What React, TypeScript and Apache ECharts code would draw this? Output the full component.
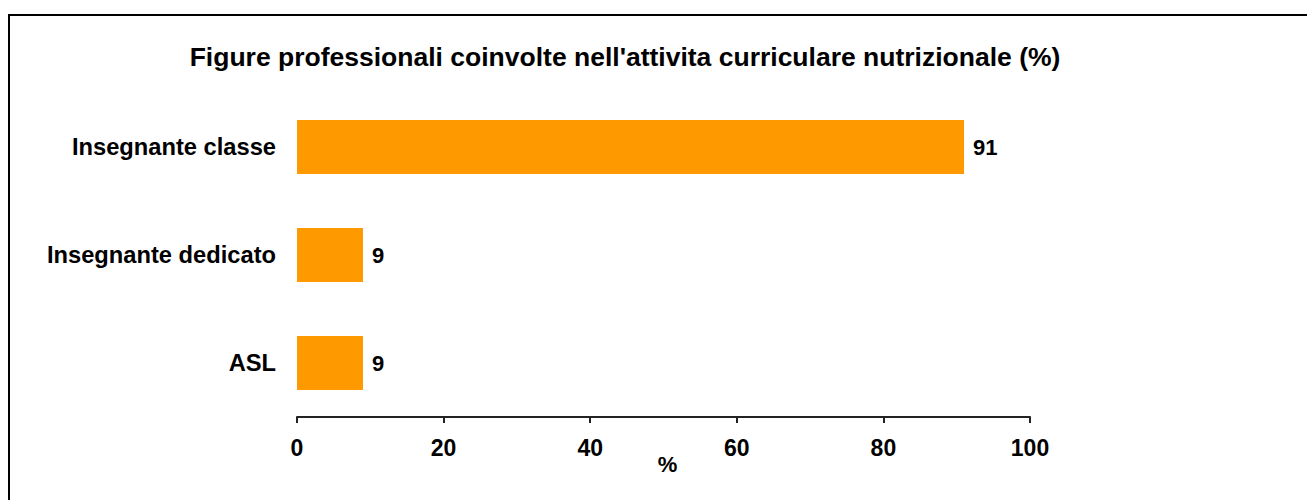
import React, { useEffect, useRef } from "react";
import * as echarts from "echarts";

const categories = ["ASL", "Insegnante dedicato", "Insegnante classe"];
const values = [9, 9, 91];
const titleText = "Figure professionali coinvolte nell'attivita curriculare nutrizionale (%)";
const axisName = "%";

export default function App() {
  const ref = useRef<HTMLDivElement>(null);
  useEffect(() => {
    if (!ref.current) return;
    const chart = echarts.init(ref.current, null, { renderer: "svg" });
    const font = "'Liberation Sans', Arial, sans-serif";
    chart.setOption({
      animation: false,
      backgroundColor: "#ffffff",
      textStyle: { fontFamily: font },
      title: {
        text: titleText,
        left: 620,
        textAlign: "center",
        top: 38,
        textStyle: { fontFamily: font, fontSize: 26.5, fontWeight: "bold", color: "#000" },
      },
      graphic: [
        {
          type: "rect",
          shape: { x: 9, y: 15, width: 1400, height: 600 },
          style: { fill: "none", stroke: "#000", lineWidth: 2 },
          silent: true,
        },
      ],
      grid: { left: 297, right: 1307 - 1030, top: 93, bottom: 500 - 417, containLabel: false },
      xAxis: {
        type: "value",
        min: 0,
        max: 100,
        interval: 20,
        name: axisName,
        nameLocation: "middle",
        nameGap: 36,
        nameMoveOverlap: false,
        nameTextStyle: { fontFamily: font, fontSize: 22, fontWeight: "bold", color: "#000", padding: [0, 0, 0, 8] },
        axisLine: { show: true, lineStyle: { color: "#222", width: 2 } },
        axisTick: { show: true, length: 6, lineStyle: { color: "#222", width: 2 } },
        axisLabel: { fontFamily: font, fontSize: 23, fontWeight: "bold", color: "#000", margin: 19 },
        splitLine: { show: false },
      },
      yAxis: {
        type: "category",
        data: categories,
        axisLine: { show: false },
        axisTick: { show: false },
        axisLabel: { fontFamily: font, fontSize: 23.7, fontWeight: "bold", color: "#000", margin: 21 },
      },
      series: [
        {
          type: "bar",
          data: values,
          barWidth: "50%",
          itemStyle: { color: "#FF9900" },
          label: {
            show: true,
            position: "right",
            distance: 9,
            fontFamily: font,
            fontSize: 22,
            fontWeight: "bold",
            color: "#000",
          },
        },
      ],
    });
    return () => chart.dispose();
  }, []);
  return (
    <div
      ref={ref}
      style={{ position: "absolute", left: 0, top: 0, width: 1307, height: 500 }}
    />
  );
}
